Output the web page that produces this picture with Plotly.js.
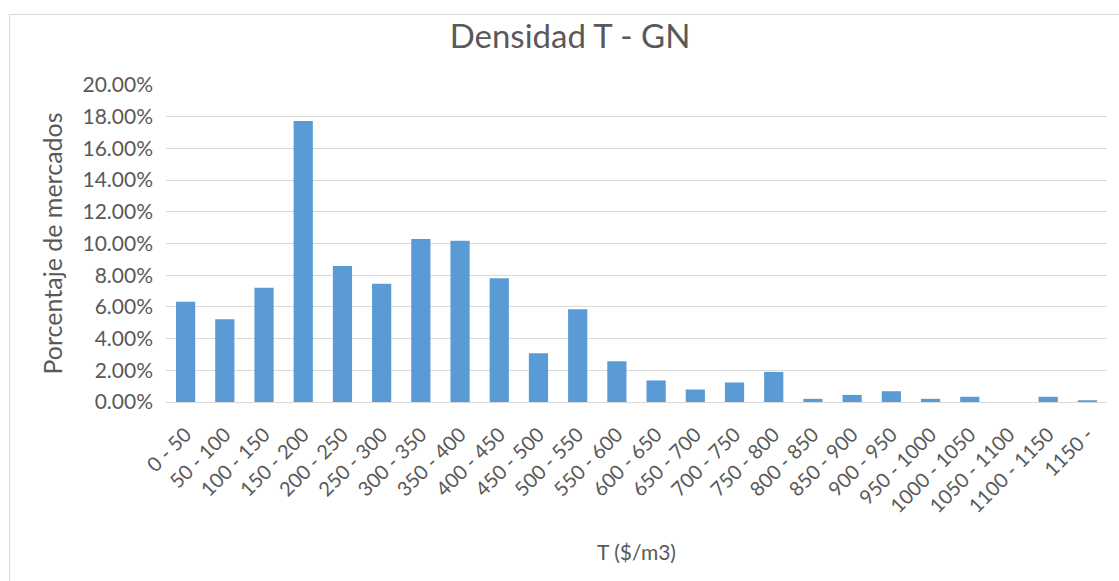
<!DOCTYPE html>
<html>
<head>
<meta charset="utf-8">
<script src="https://cdn.plot.ly/plotly-3.0.1.min.js"></script>
<style>
  html, body { margin: 0; padding: 0; background: #fff; overflow: hidden; width: 1119px; height: 581px; }
  #frame { position: absolute; left: 9px; top: 14px; border-left: 1px solid #d9d9d9; border-top: 1px solid #d9d9d9; width: 1120px; height: 580px; }
  #chart { width: 1110px; height: 567px; }
</style>
</head>
<body>
<div id="frame"><div id="chart"></div></div>
<script>
const categories = ["0 - 50","50 - 100","100 - 150","150 - 200","200 - 250","250 - 300","300 - 350","350 - 400","400 - 450","450 - 500","500 - 550","550 - 600","600 - 650","650 - 700","700 - 750","750 - 800","800 - 850","850 - 900","900 - 950","950 - 1000","1000 - 1050","1050 - 1100","1100 - 1150","1150 -"];
const percentages = [0.0633,0.0522,0.0721,0.1773,0.0858,0.0746,0.1028,0.1018,0.0780,0.0307,0.0585,0.0257,0.0136,0.0079,0.0123,0.0190,0.0020,0.0045,0.0068,0.0020,0.0033,0.0,0.0033,0.0011];
const yTicks = [0,0.02,0.04,0.06,0.08,0.10,0.12,0.14,0.16,0.18,0.20];

const textColor = '#595959';
const fontFam = 'Lato, "Open Sans", sans-serif';

const data = [{
  type: 'bar',
  x: categories,
  y: percentages,
  marker: { color: '#5B9BD5', line: { width: 0 } },
  hoverinfo: 'x+y'
}];

const layout = {
  width: 1110,
  height: 567,
  margin: { l: 156, r: 13, t: 70, b: 180 },
  paper_bgcolor: '#ffffff',
  plot_bgcolor: '#ffffff',
  bargap: 0.51,
  showlegend: false,
  font: { family: fontFam, color: textColor },
  title: {
    text: 'Densidad T - GN',
    font: { family: fontFam, size: 33, color: textColor },
    x: 0.5045, xref: 'container', xanchor: 'center',
    y: 0.962, yref: 'container', yanchor: 'middle'
  },
  xaxis: {
    type: 'category',
    tickangle: -45,
    tickfont: { family: fontFam, size: 20, color: textColor },
    showgrid: false,
    showline: false,
    zeroline: false,
    ticks: '',
    ticklabelstandoff: 16,
    automargin: false,
    title: { text: 'T ($/m3)', font: { family: fontFam, size: 21, color: textColor }, standoff: 29 }
  },
  yaxis: {
    range: [0, 0.2],
    tickvals: yTicks,
    tickformat: '.2%',
    tickfont: { family: fontFam, size: 21, color: textColor },
    showgrid: true,
    gridcolor: '#d9d9d9',
    gridwidth: 1,
    zeroline: true,
    zerolinecolor: '#d9d9d9',
    zerolinewidth: 1,
    showline: false,
    ticks: '',
    ticklabelstandoff: 12,
    automargin: false,
    title: { text: 'Porcentaje de mercados', font: { family: fontFam, size: 25, color: textColor }, standoff: 12 }
  }
};

Plotly.newPlot('chart', data, layout, { displayModeBar: false, staticPlot: true });
</script>
</body>
</html>
